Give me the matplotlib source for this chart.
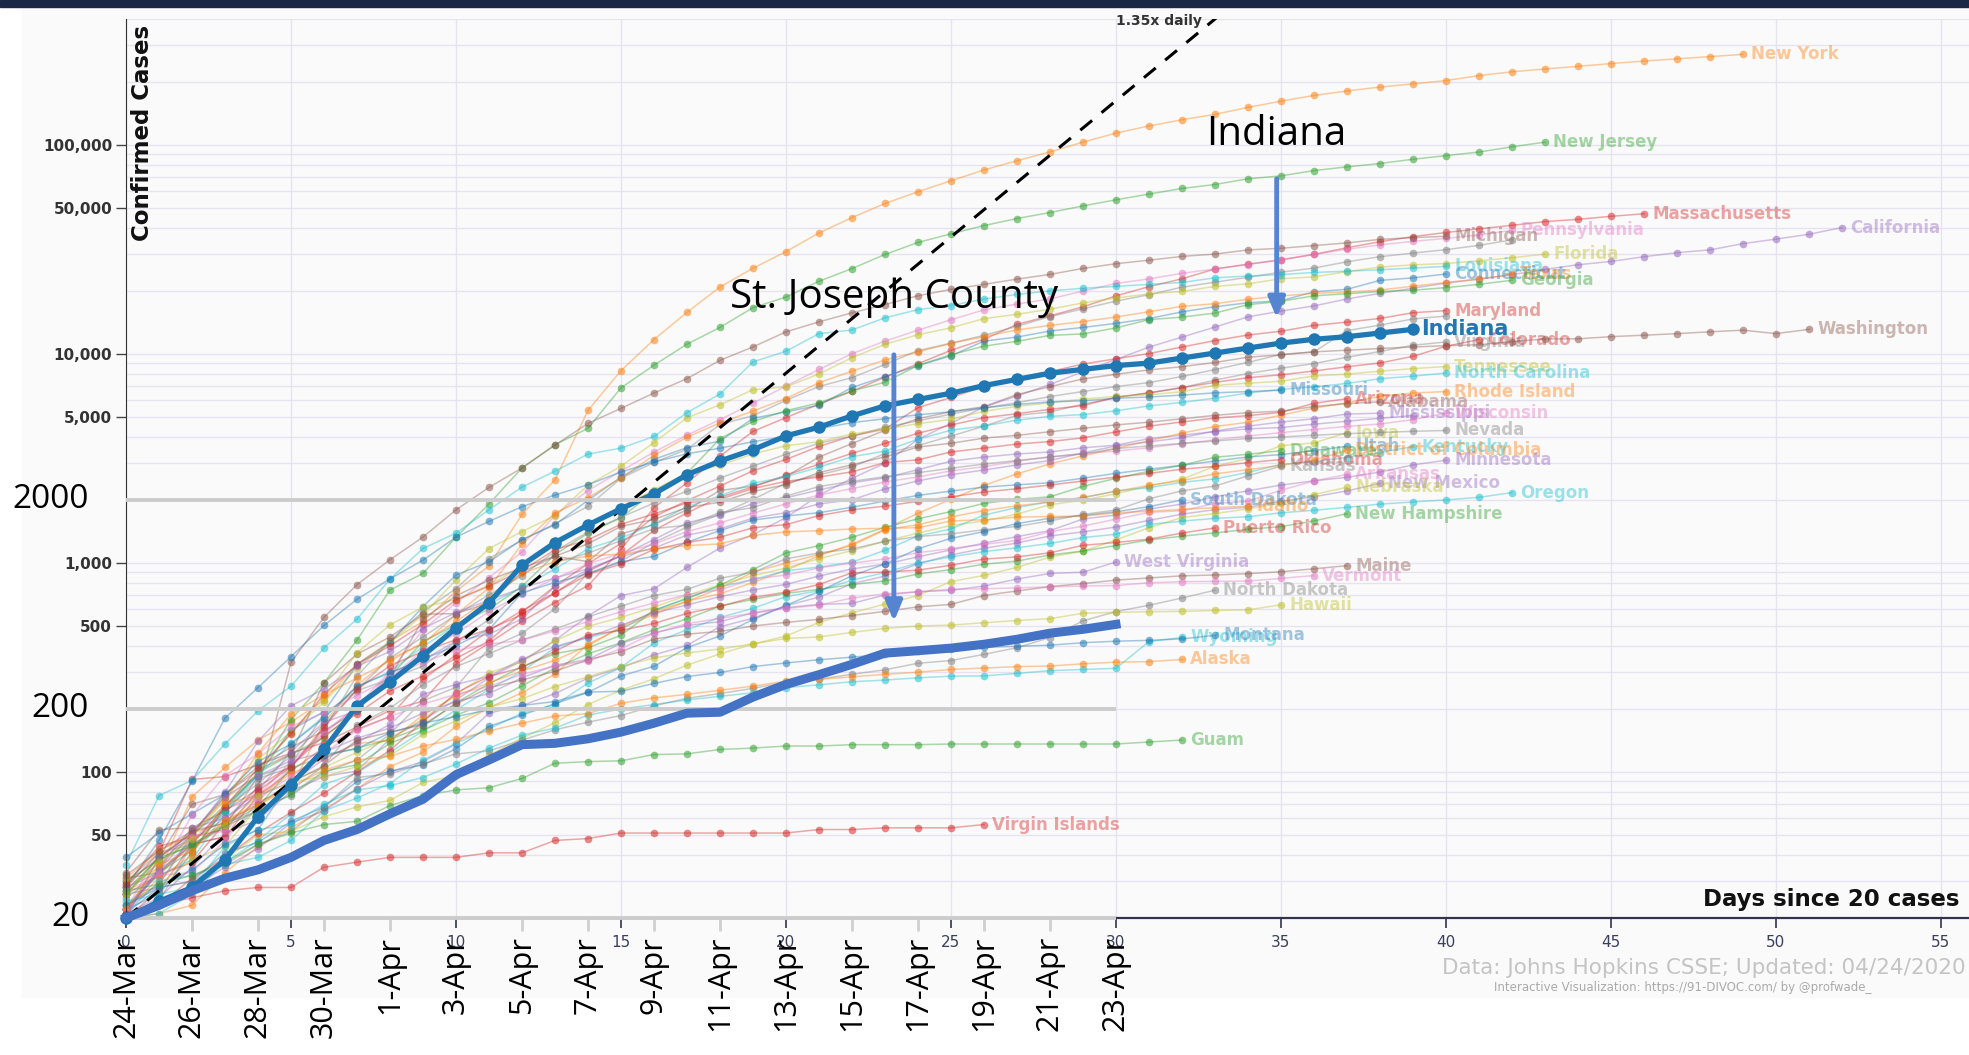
import matplotlib.pyplot as plt
from matplotlib.patches import Rectangle
from matplotlib.colors import to_rgba

# ---- confirmed cases by "days since 20 cases" ----
new_york = [22, 33, 76, 105, 142, 173, 220, 328, 421, 525, 732, 967, 1706, 2495, 5365, 8310, 11710, 15800,
            20884, 25681, 30841, 37877, 44876, 52410, 59648, 67325, 75833, 83948, 92506, 102987, 113833,
            123160, 131815, 139875, 151061, 161779, 172348, 181026, 189033, 195749, 203020, 214454, 223691,
            230597, 237474, 244786, 251543, 258060, 264222, 271000]
new_jersey = [23, 29, 50, 69, 98, 178, 267, 427, 742, 890, 1327, 1914, 2844, 3675, 4402, 6876, 8825, 11124,
              13386, 16636, 18696, 22255, 25590, 29895, 34124, 37505, 41090, 44416, 47437, 51027, 54588,
              58151, 61850, 64584, 68824, 71030, 75317, 78467, 81420, 85301, 88806, 92387, 97865, 103000]
massachusetts = [28, 41, 92, 95, 108, 123, 138, 164, 197, 218, 328, 413, 525, 646, 777, 1159, 1838, 2417,
                 3240, 4257, 4955, 5752, 6620, 7738, 8966, 10402, 11736, 13837, 15202, 16790, 18941, 20974,
                 22860, 25475, 26867, 28163, 29918, 32181, 34402, 36372, 38077, 39643, 41199, 42944, 44000,
                 45500, 46800]
california = [21, 25, 35, 51, 59, 81, 95, 101, 144, 177, 221, 282, 340, 426, 557, 698, 751, 952, 1177, 1364,
              1646, 2108, 2538, 2998, 3899, 4657, 5565, 6284, 7138, 8210, 9399, 10773, 12026, 13438, 15035,
              16019, 16957, 18309, 19472, 20615, 21794, 22795, 23931, 25356, 26686, 27677, 29157, 30491,
              31431, 33686, 35396, 37344, 40200]
pennsylvania = [22, 41, 47, 66, 77, 112, 152, 206, 303, 479, 644, 851, 1127, 1687, 2218, 2751, 3394, 4087,
                4843, 5805, 7016, 8420, 10017, 11510, 12980, 14559, 16239, 17315, 18300, 19979, 21719, 22833,
                24292, 25465, 26753, 28258, 29888, 31652, 33232, 34528, 35684, 37053, 39000]
michigan = [33, 53, 54, 65, 83, 334, 549, 787, 1035, 1329, 1793, 2296, 2845, 3657, 4650, 5486, 6498, 7615,
            9315, 10791, 12744, 14225, 15718, 17221, 18970, 20346, 21504, 22783, 23993, 25635, 27001, 28059,
            29263, 30023, 31424, 32000, 32967, 33966, 35291, 36000, 36500]
illinois = [25, 32, 46, 64, 93, 105, 160, 288, 422, 585, 753, 1049, 1285, 1537, 1865, 2538, 3024, 3491, 4596,
            5057, 5994, 6980, 7695, 8904, 10357, 11256, 12262, 13549, 15078, 16422, 17887, 19180, 20852,
            22025, 23247, 24593, 25733, 27575, 29160, 30357, 31508, 33059, 35108]
florida = [28, 35, 50, 76, 115, 155, 216, 314, 417, 563, 830, 1171, 1412, 1682, 2355, 2900, 3763, 4950, 5704,
           6741, 6955, 8010, 9585, 11111, 12350, 13324, 14747, 15455, 16364, 17531, 18494, 19355, 19895,
           21019, 21628, 22897, 23343, 24759, 25996, 26660, 27059, 27869, 28832, 30000]
louisiana = [36, 77, 91, 136, 196, 257, 392, 538, 837, 1172, 1388, 1795, 2305, 2746, 3315, 3540, 4025, 5237,
             6424, 9150, 10297, 12496, 13010, 14867, 16284, 17030, 18283, 19253, 20014, 20595, 21016, 21518,
             21951, 23118, 23580, 23928, 24523, 24854, 25258, 25739, 26200]
connecticut = [22, 26, 41, 68, 96, 159, 194, 327, 415, 618, 875, 1012, 1291, 1524, 1993, 2571, 3128, 3557,
               3824, 4914, 5276, 5675, 6906, 7781, 8781, 9784, 11510, 12035, 12860, 13381, 13989, 14755,
               15884, 16809, 17550, 17962, 19815, 20360, 22469, 23100, 24100]
texas = [21, 39, 51, 57, 72, 83, 173, 260, 348, 410, 566, 759, 1229, 1731, 2052, 2552, 3266, 3997, 4669,
         5330, 6110, 7276, 8262, 9353, 10230, 11209, 12105, 13023, 13677, 14275, 15006, 15907, 16876, 17371,
         18260, 18923, 19458, 19751, 20196, 21069, 21944, 22806, 24000]
georgia = [31, 33, 42, 66, 99, 121, 146, 199, 287, 420, 507, 600, 772, 1097, 1387, 1643, 2198, 2683, 3929,
           4748, 5348, 5831, 6647, 7314, 8818, 9901, 10885, 11483, 12261, 12452, 13315, 14578, 14987, 15669,
           17194, 17841, 18947, 19398, 19881, 20166, 20740, 21512, 22500]
maryland = [26, 32, 37, 57, 85, 107, 149, 190, 244, 288, 349, 423, 580, 774, 992, 1239, 1660, 1985, 2331,
            2758, 3125, 3609, 4045, 4371, 5529, 6185, 6968, 7694, 8225, 8936, 9472, 10032, 10784, 11572,
            12308, 12830, 13684, 14193, 14775, 15737, 16100]
ohio = [26, 37, 50, 67, 88, 119, 169, 247, 351, 442, 564, 704, 867, 1137, 1406, 1653, 1933, 2199, 2547,
        2902, 3312, 3739, 4043, 4450, 4782, 5148, 5512, 5836, 6250, 6604, 6975, 7285, 7794, 8414, 9107, 9939,
        10222, 12919, 13725, 14694, 15169]
virginia = [30, 41, 45, 49, 67, 77, 99, 114, 152, 219, 254, 391, 460, 604, 890, 1020, 1250, 1484, 1706, 2012,
            2407, 2637, 2878, 3333, 3645, 4042, 4509, 5077, 5274, 5747, 6171, 6500, 6889, 7491, 8053, 8537,
            8990, 9630, 10266, 10998, 11400]
colorado = [22, 33, 45, 49, 77, 101, 131, 160, 184, 277, 363, 475, 591, 720, 912, 1086, 1430, 1734, 2061,
            2311, 2627, 2966, 3342, 3728, 4173, 4565, 4950, 5172, 5429, 5655, 6202, 6510, 6893, 7303, 7691,
            7941, 8280, 8675, 9047, 9730, 10878, 11700]
washington = [27, 39, 70, 78, 102, 122, 267, 366, 442, 568, 572, 643, 904, 1076, 1014, 1376, 1524, 1793,
              2221, 2328, 2591, 3207, 3723, 4310, 4896, 5292, 5588, 6389, 6966, 7591, 7984, 8384, 8682, 9097,
              9639, 9887, 10224, 10411, 10609, 10783, 10942, 11057, 11445, 11790, 11802, 12085, 12282, 12494,
              12753, 12977, 12500, 13100]
tennessee = [26, 39, 52, 74, 98, 154, 228, 371, 505, 615, 667, 784, 957, 1203, 1537, 1834, 2239, 2683, 2933,
             3321, 3633, 3802, 4138, 4362, 4634, 4862, 5308, 5610, 5827, 6079, 6263, 6375, 6589, 7070, 7238,
             7394, 7842, 8000, 8266, 8500, 8700]
north_carolina = [23, 32, 38, 64, 97, 137, 184, 255, 302, 398, 504, 636, 763, 935, 1167, 1313, 1537, 1857,
                  2093, 2402, 2585, 2870, 3221, 3426, 3908, 4312, 4520, 4816, 5024, 5123, 5340, 5639, 5859,
                  6140, 6493, 6764, 6951, 7220, 7608, 7820, 8100]
south_carolina = [28, 33, 47, 60, 81, 125, 173, 196, 298, 342, 424, 456, 539, 774, 925, 1083, 1293, 1554,
                  1700, 1917, 2049, 2232, 2417, 2552, 2792, 3065, 3207, 3320, 3391, 3553, 3656, 3931, 4086,
                  4246, 4377, 4439, 4608, 4761, 4917, 5070]
rhode_island = [20, 21, 23, 33, 44, 54, 66, 83, 106, 124, 165, 203, 239, 294, 408, 488, 566, 657, 711, 806,
                922, 1082, 1229, 1450, 1727, 2015, 2349, 2665, 2976, 3251, 3529, 3838, 4177, 4491, 4706,
                5090, 5500, 5841, 6256, 6500, 6600]
missouri = [28, 47, 90, 181, 253, 356, 502, 670, 838, 1031, 1327, 1580, 1857, 2113, 2367, 2722, 3037, 3327,
            3539, 3799, 4024, 4388, 4686, 4895, 5111, 5283, 5517, 5729, 5890, 5963, 6130, 6220, 6350, 6510,
            6600, 6700]
arizona = [20, 27, 45, 68, 104, 152, 235, 326, 401, 508, 665, 773, 919, 1157, 1289, 1530, 1715, 1937, 2019,
           2269, 2456, 2575, 2726, 3018, 3112, 3393, 3542, 3702, 3806, 3964, 4234, 4511, 4724, 4929, 5064,
           5251, 5800, 6100]
alabama = [29, 39, 51, 78, 106, 131, 157, 196, 283, 538, 696, 827, 947, 1077, 1233, 1495, 1614, 1841, 1952,
           2197, 2369, 2703, 2947, 3217, 3583, 3734, 3953, 4075, 4241, 4404, 4571, 4712, 4888, 5079, 5231,
           5317, 5593, 5778, 5900]
mississippi = [21, 34, 50, 80, 140, 207, 249, 320, 377, 485, 579, 663, 758, 847, 937, 1073, 1177, 1358,
               1455, 1638, 1738, 1915, 2003, 2260, 2469, 2642, 2781, 2942, 3087, 3360, 3624, 3793, 3974,
               4274, 4512, 4716, 4894, 5153, 5200]
wisconsin = [27, 32, 33, 47, 72, 106, 155, 206, 281, 381, 457, 585, 707, 842, 989, 1112, 1230, 1412, 1556,
             1730, 1916, 2112, 2267, 2440, 2578, 2756, 2885, 3068, 3213, 3341, 3428, 3555, 3721, 3875, 4045,
             4199, 4346, 4499, 4620, 4845, 5200]
iowa = [23, 29, 38, 44, 68, 90, 105, 124, 145, 179, 235, 298, 336, 424, 497, 549, 614, 699, 786, 868, 946,
        1048, 1145, 1270, 1388, 1510, 1587, 1710, 1899, 1995, 2141, 2332, 2513, 2902, 3159, 3641, 3748, 4200]
nevada = [21, 24, 45, 55, 95, 109, 190, 245, 278, 321, 420, 535, 738, 1008, 1113, 1279, 1458, 1514, 1742,
          1836, 2087, 2318, 2456, 2584, 2700, 2836, 2971, 3088, 3211, 3321, 3524, 3626, 3728, 3830, 3937,
          4000, 4081, 4150, 4208, 4260, 4300]
utah = [39, 51, 63, 78, 112, 136, 181, 257, 298, 346, 402, 480, 719, 806, 887, 1012, 1074, 1255, 1428, 1605,
        1675, 1738, 1846, 1976, 2103, 2206, 2303, 2363, 2417, 2542, 2683, 2805, 2931, 3069, 3213, 3296, 3445,
        3612]
kentucky = [20, 21, 26, 37, 47, 63, 87, 99, 124, 157, 198, 248, 302, 394, 439, 480, 591, 680, 770, 831, 917,
            955, 1008, 1149, 1346, 1452, 1693, 1840, 1963, 2048, 2210, 2291, 2429, 2522, 2707, 2960, 3050,
            3192, 3373, 3600]
delaware = [30, 38, 45, 56, 68, 104, 119, 130, 143, 165, 214, 264, 319, 368, 393, 450, 593, 673, 783, 928,
            1116, 1209, 1326, 1479, 1625, 1761, 1926, 2014, 2070, 2323, 2538, 2745, 2931, 3200, 3308, 3442]
dc = [22, 31, 40, 71, 77, 98, 116, 137, 141, 187, 231, 267, 304, 342, 401, 495, 586, 653, 757, 902, 998, 1097,
      1211, 1440, 1523, 1660, 1778, 1875, 1955, 2058, 2197, 2350, 2476, 2666, 2793, 2927, 3098, 3450]
oklahoma = [29, 44, 49, 53, 81, 106, 164, 248, 322, 377, 429, 481, 565, 719, 879, 988, 1159, 1252, 1327, 1472,
            1524, 1684, 1794, 1868, 1970, 2069, 2184, 2263, 2357, 2465, 2570, 2680, 2807, 2894, 3017, 3121]
kansas = [22, 34, 44, 57, 65, 82, 107, 168, 202, 261, 319, 368, 428, 482, 552, 620, 698, 747, 845, 900, 1046,
          1116, 1166, 1268, 1337, 1376, 1441, 1494, 1588, 1705, 1790, 2025, 2211, 2331, 2610, 2900]
minnesota = [21, 35, 54, 60, 77, 89, 115, 138, 169, 235, 262, 287, 346, 398, 441, 503, 576, 629, 689, 742,
             789, 865, 935, 986, 1069, 1154, 1242, 1336, 1427, 1621, 1695, 1809, 1912, 2071, 2213, 2356, 2470,
             2567, 2721, 2942, 3100]
arkansas = [22, 33, 62, 96, 122, 165, 192, 232, 280, 335, 381, 409, 426, 473, 523, 584, 643, 704, 743, 837,
            875, 946, 997, 1044, 1119, 1171, 1226, 1280, 1410, 1498, 1620, 1744, 1777, 1923, 1973, 2227, 2465,
            2650]
new_mexico = [21, 23, 28, 35, 43, 57, 65, 83, 100, 112, 136, 191, 208, 237, 281, 315, 363, 403, 495, 543, 624,
              686, 794, 865, 989, 1091, 1174, 1245, 1345, 1407, 1484, 1597, 1711, 1798, 1845, 1971, 2072,
              2210, 2400]
nebraska = [21, 24, 27, 38, 50, 52, 61, 68, 73, 89, 96, 120, 145, 172, 210, 246, 279, 324, 367, 409, 447, 519,
            577, 635, 698, 814, 871, 952, 1066, 1138, 1287, 1474, 1648, 1722, 1813, 1930, 2124, 2300]
oregon = [21, 30, 32, 36, 39, 47, 65, 75, 88, 114, 137, 161, 191, 209, 266, 316, 414, 479, 548, 606, 690, 736,
          826, 899, 999, 1068, 1132, 1181, 1239, 1321, 1371, 1527, 1584, 1633, 1663, 1736, 1785, 1844, 1910,
          1956, 2002, 2059, 2170]
new_hampshire = [26, 39, 44, 55, 65, 78, 101, 108, 137, 158, 187, 214, 258, 314, 367, 415, 479, 540, 621, 669,
                 715, 747, 788, 819, 885, 929, 985, 1020, 1091, 1139, 1211, 1287, 1342, 1392, 1447, 1491, 1588,
                 1720]
south_dakota = [21, 28, 30, 41, 46, 58, 68, 90, 101, 108, 129, 165, 187, 212, 240, 288, 320, 393, 447, 536,
                626, 730, 868, 988, 1168, 1311, 1411, 1542, 1635, 1685, 1755, 1858, 2000]
idaho = [31, 42, 50, 73, 123, 189, 234, 281, 339, 415, 525, 669, 891, 1013, 1078, 1101, 1170, 1210, 1232, 1353,
         1407, 1426, 1453, 1464, 1473, 1587, 1609, 1655, 1668, 1672, 1736, 1766, 1802, 1836, 1870]
puerto_rico = [21, 23, 31, 39, 51, 64, 79, 100, 127, 174, 239, 286, 316, 378, 452, 475, 513, 573, 620, 683,
               725, 788, 897, 903, 923, 974, 1043, 1068, 1118, 1213, 1252, 1298, 1389, 1470]
west_virginia = [20, 39, 51, 76, 96, 113, 124, 145, 162, 191, 217, 237, 282, 324, 345, 412, 462, 502, 523, 577,
                 611, 633, 640, 702, 728, 739, 775, 837, 890, 902, 1010]
maine = [32, 42, 52, 57, 70, 89, 107, 142, 155, 168, 211, 253, 275, 303, 344, 376, 432, 456, 470, 499, 519,
         537, 560, 586, 616, 633, 698, 734, 770, 796, 827, 847, 867, 875, 888, 907, 937, 970]
vermont = [22, 29, 49, 52, 75, 95, 123, 158, 184, 211, 235, 256, 293, 321, 338, 389, 461, 512, 543, 575, 605,
           628, 679, 711, 727, 748, 752, 759, 768, 775, 779, 803, 813, 816, 818, 843, 870]
north_dakota = [26, 28, 30, 36, 45, 52, 68, 94, 98, 109, 122, 126, 142, 159, 173, 186, 207, 225, 237, 251, 269,
                278, 293, 308, 331, 341, 365, 393, 439, 528, 585, 627, 679, 740]
hawaii = [26, 37, 48, 56, 77, 90, 95, 106, 120, 151, 175, 204, 224, 256, 285, 319, 351, 371, 387, 410, 435,
          442, 465, 486, 499, 504, 517, 530, 541, 574, 580, 584, 586, 592, 596, 630]
wyoming = [24, 26, 28, 44, 53, 56, 70, 82, 86, 94, 109, 130, 150, 162, 187, 200, 210, 221, 230, 239, 253, 261,
           270, 275, 282, 287, 288, 296, 305, 309, 313, 420, 440]
montana = [23, 28, 34, 45, 53, 90, 121, 129, 154, 171, 184, 198, 208, 217, 241, 243, 265, 286, 299, 319, 332,
           344, 354, 365, 377, 387, 394, 399, 404, 415, 422, 426, 433, 450]
alaska = [22, 36, 42, 59, 69, 85, 102, 114, 119, 133, 143, 157, 171, 185, 190, 213, 226, 235, 246, 257, 272,
          277, 285, 293, 300, 309, 314, 319, 321, 329, 335, 337, 345]
guam = [27, 29, 32, 37, 45, 51, 56, 58, 69, 77, 82, 84, 93, 110, 112, 113, 121, 122, 128, 130, 133, 133, 135,
        135, 135, 136, 136, 136, 136, 136, 136, 139, 142]
virgin_islands = [21, 23, 25, 27, 28, 28, 35, 37, 39, 39, 39, 41, 41, 47, 48, 51, 51, 51, 51, 51, 51, 53, 53,
                  54, 54, 54, 56]

indiana = [20, 24, 28, 38, 61, 87, 128, 207, 269, 360, 488, 644, 975, 1250, 1518, 1816, 2140, 2640, 3070,
           3480, 4050, 4460, 5050, 5640, 6050, 6480, 7050, 7550, 8080, 8430, 8790, 9030, 9550, 10090, 10660,
           11260, 11740, 12080, 12580, 13100]
st_joseph = [20, 23, 27, 31, 34, 39, 47, 53, 63, 74, 97, 114, 135, 137, 144, 155, 171, 191, 193, 228, 262,
             292, 327, 370, 380, 391, 408, 431, 461, 481, 508]

C_BLUE, C_ORANGE, C_GREEN, C_RED, C_PURPLE = "#1f77b4", "#ff7f0e", "#2ca02c", "#d62728", "#9467bd"
C_BROWN, C_PINK, C_GREY, C_OLIVE, C_CYAN = "#8c564b", "#e377c2", "#7f7f7f", "#bcbd22", "#17becf"

states = [
    ("New York", new_york, C_ORANGE, True), ("New Jersey", new_jersey, C_GREEN, True),
    ("Massachusetts", massachusetts, C_RED, True), ("California", california, C_PURPLE, True),
    ("Pennsylvania", pennsylvania, C_PINK, True), ("Michigan", michigan, C_BROWN, True),
    ("Illinois", illinois, C_GREY, False), ("Florida", florida, C_OLIVE, True),
    ("Louisiana", louisiana, C_CYAN, True), ("Connecticut", connecticut, C_BLUE, True),
    ("Texas", texas, C_ORANGE, True), ("Georgia", georgia, C_GREEN, True),
    ("Maryland", maryland, C_RED, True), ("Ohio", ohio, C_GREY, False),
    ("Virginia", virginia, C_GREY, True), ("Colorado", colorado, C_RED, True),
    ("Washington", washington, C_BROWN, True), ("Tennessee", tennessee, C_OLIVE, True),
    ("North Carolina", north_carolina, C_CYAN, True), ("South Carolina", south_carolina, C_PURPLE, False),
    ("Rhode Island", rhode_island, C_ORANGE, True), ("Missouri", missouri, C_BLUE, True),
    ("Arizona", arizona, C_RED, True), ("Alabama", alabama, C_BROWN, True),
    ("Mississippi", mississippi, C_PURPLE, True), ("Wisconsin", wisconsin, C_PINK, True),
    ("Iowa", iowa, C_OLIVE, True), ("Nevada", nevada, C_GREY, True), ("Utah", utah, C_BLUE, True),
    ("Kentucky", kentucky, C_CYAN, True), ("Delaware", delaware, C_GREEN, True),
    ("District of Columbia", dc, C_ORANGE, True), ("Oklahoma", oklahoma, C_RED, True),
    ("Kansas", kansas, C_GREY, True), ("Minnesota", minnesota, C_PURPLE, True),
    ("Arkansas", arkansas, C_PINK, True), ("New Mexico", new_mexico, C_PURPLE, True),
    ("Nebraska", nebraska, C_OLIVE, True), ("Oregon", oregon, C_CYAN, True),
    ("New Hampshire", new_hampshire, C_GREEN, True), ("South Dakota", south_dakota, C_BLUE, True),
    ("Idaho", idaho, C_ORANGE, True), ("Puerto Rico", puerto_rico, C_RED, True),
    ("West Virginia", west_virginia, C_PURPLE, True), ("Maine", maine, C_BROWN, True),
    ("Vermont", vermont, C_PINK, True), ("North Dakota", north_dakota, C_GREY, True),
    ("Hawaii", hawaii, C_OLIVE, True), ("Wyoming", wyoming, C_CYAN, True),
    ("Montana", montana, C_BLUE, True), ("Alaska", alaska, C_ORANGE, True),
    ("Guam", guam, C_GREEN, True), ("Virgin Islands", virgin_islands, C_RED, True),
]

date_labels = ["24-Mar", "26-Mar", "28-Mar", "30-Mar", "1-Apr", "3-Apr", "5-Apr", "7-Apr", "9-Apr",
               "11-Apr", "13-Apr", "15-Apr", "17-Apr", "19-Apr", "21-Apr", "23-Apr"]
date_days = list(range(0, 31, 2))
y_ticks = [50, 100, 500, 1000, 5000, 10000, 50000, 100000]
y_tick_labels = ["50", "100", "500", "1,000", "5,000", "10,000", "50,000", "100,000"]
ref_levels = [20, 200, 2000]
growth = 1.35

W, H = 1969, 1055
fig = plt.figure(figsize=(W / 100, H / 100), dpi=100)
fig.patches.append(Rectangle((22 / W, 1 - 997 / H), 1, (997 - 7) / H, transform=fig.transFigure,
                             color="#fafafa", zorder=-10))
fig.patches.append(Rectangle((0, 1 - 7 / H), 1, 7 / H, transform=fig.transFigure, color="#1b2845",
                             zorder=-10))

ax = fig.add_axes([126 / W, 1 - 918 / H, 1 - 126 / W, (918 - 19) / H])
ax.set_facecolor("none")
ax.set_yscale("log")
ax.set_xlim(0, 55.85)
ax.set_ylim(20, 400000)

ax.set_xticks(range(0, 56, 5))
ax.set_xticks(date_days, minor=True)
ax.set_yticks(y_ticks)
ax.set_yticklabels(y_tick_labels)
ax.yaxis.set_minor_formatter(plt.NullFormatter())
ax.tick_params(axis="y", which="minor", length=0)
ax.tick_params(axis="y", which="major", length=7, width=1, color="#444", labelsize=11,
               labelcolor="#333", pad=3)
for t in ax.get_yticklabels():
    t.set_fontweight("semibold")
ax.tick_params(axis="x", which="major", length=7, width=1.2, color="#33334d", labelsize=11,
               labelcolor="#3a3f5c", pad=5)
ax.tick_params(axis="x", which="minor", length=9, width=2, color="#cfcfcf")
ax.grid(True, which="both", axis="y", color="#e6e2f0", lw=1)
ax.grid(True, which="major", axis="x", color="#e6e2f0", lw=1)
ax.set_axisbelow(True)
for s in ["top", "right"]:
    ax.spines[s].set_visible(False)
ax.spines["left"].set_color("#333")
ax.spines["bottom"].set_color("#33334d")
ax.spines["bottom"].set_linewidth(1.6)

for name, vals, col, show in states:
    days = range(len(vals))
    ax.plot(days, vals, color=to_rgba(col, 0.4), lw=1.1, marker="o", ms=5.5, mew=0,
            mfc=to_rgba(col, 0.55), zorder=2, clip_on=False)
    if show:
        ax.text(len(vals) - 1 + 0.25, vals[-1], name, color=col, alpha=0.42, fontsize=12,
                fontweight="semibold", va="center", ha="left", zorder=2)

# 1.35x daily reference
ref_days = [0, 34]
ax.plot(ref_days, [20 * growth ** d for d in ref_days], color="black", lw=2.2, ls=(0, (5, 4)), zorder=4)
ax.text(30.0, 390000, "1.35x daily", fontsize=10, fontweight="bold", color="#333", va="center",
        ha="left", zorder=4)

ax.plot(range(len(indiana)), indiana, color=C_BLUE, lw=3.8, marker="o", ms=8, zorder=5, clip_on=False)
ax.text(len(indiana) - 1 + 0.25, indiana[-1], "Indiana", color=C_BLUE, fontsize=15, fontweight="bold",
        va="center", ha="left", zorder=5)

# presenter overlay
ax.hlines(ref_levels, 0, 30, color="#cccccc", lw=2.8, zorder=6, clip_on=False)
ax.plot(range(len(st_joseph)), st_joseph, color="#4472c4", lw=6.5, solid_joinstyle="round", zorder=7,
        clip_on=False)
ytr = ax.get_yaxis_transform()
for lv in ref_levels:
    ax.text(-0.02, lv, str(lv), transform=ytr, ha="right", va="center", fontsize=24,
            family="Open Sans", color="black", zorder=8)
xtr = ax.get_xaxis_transform()
for d, lab in zip(date_days, date_labels):
    ax.text(d, -0.02, lab, transform=xtr, rotation=90, ha="center", va="top", fontsize=22,
            family="Open Sans", color="black", zorder=8, clip_on=False)

arrow = dict(arrowstyle="-|>,head_width=0.5,head_length=1.2", color="#5585d0", lw=3.5)
ax.annotate("", xy=(23.27, 508), xytext=(23.27, 10200), arrowprops=arrow, zorder=8)
ax.annotate("", xy=(34.87, 14400), xytext=(34.87, 70900), arrowprops=arrow, zorder=8)
ax.text(23.27, 18500, "St. Joseph County", fontsize=29, family="Open Sans", ha="center", va="center",
        zorder=8)
ax.text(34.87, 112000, "Indiana", fontsize=29, family="Open Sans", ha="center", va="center", zorder=8)

ax.text(0.0087, 0.993, "Confirmed Cases", transform=ax.transAxes, rotation=90, ha="center", va="top",
        fontsize=16.5, fontweight="bold", color="#111")
ax.text(0.9946, 0.021, "Days since 20 cases", transform=ax.transAxes, ha="right", va="center",
        fontsize=16.5, fontweight="bold", color="#111")

fig.text(1966 / W, 1 - 968 / H, "Data: Johns Hopkins CSSE; Updated: 04/24/2020", ha="right", va="center",
         fontsize=15.5, color="#c4c4c4")
fig.text(1494 / W, 1 - 987 / H, "Interactive Visualization: https://91-DIVOC.com/ by @profwade_",
         ha="left", va="center", fontsize=8.5, color="#aaaaaa")

fig.savefig("out.png", dpi=100)
